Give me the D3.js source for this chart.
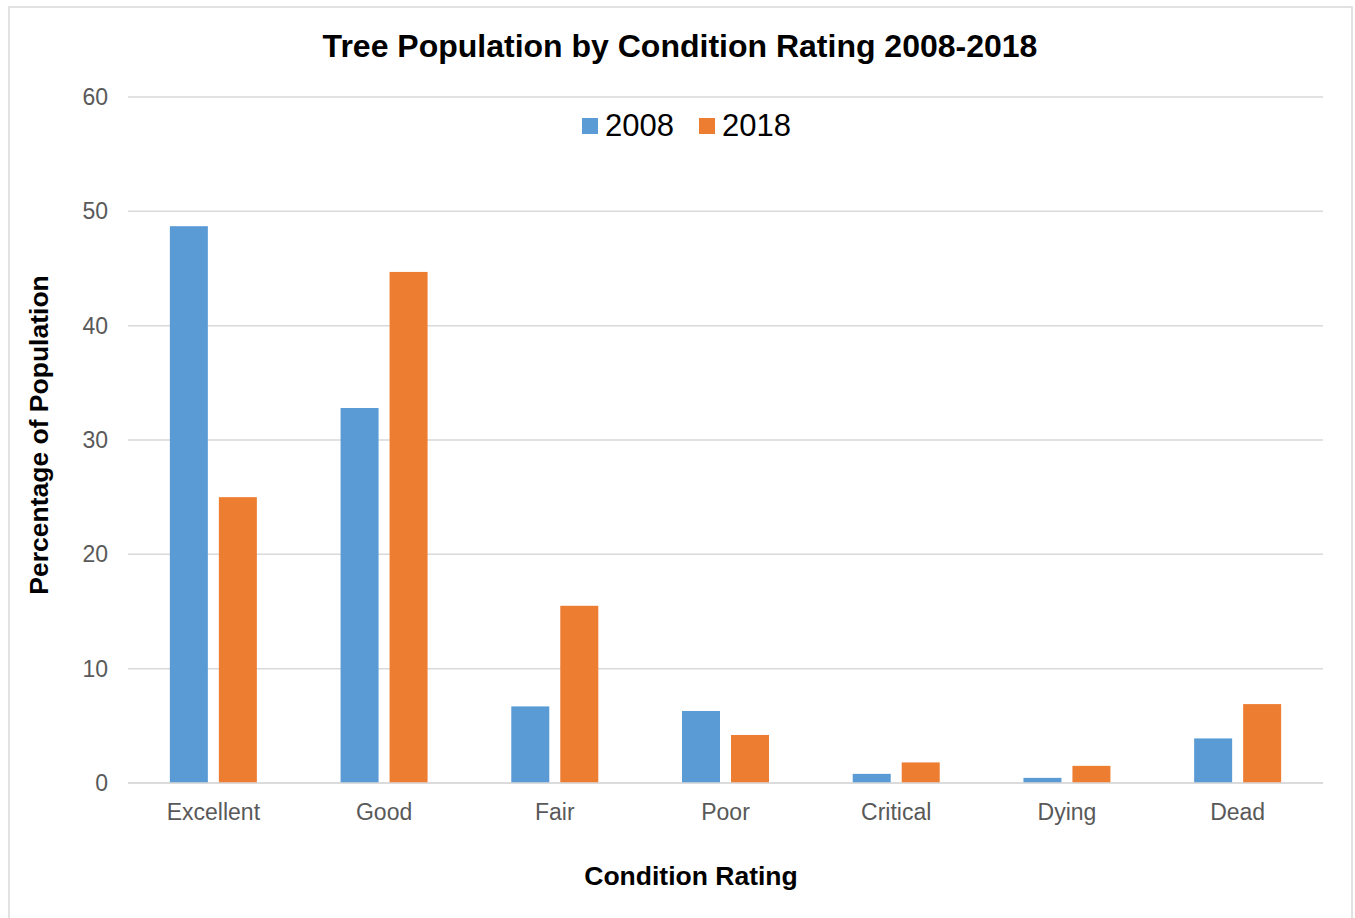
<!DOCTYPE html>
<html>
<head>
<meta charset="utf-8">
<script src="https://cdn.jsdelivr.net/npm/d3@7"></script>
<style>
  html, body { margin: 0; padding: 0; background: #fff; }
  svg { display: block; font-family: "Liberation Sans", Arial, sans-serif; }
</style>
</head>
<body>
<svg id="chart" width="1355" height="918"></svg>
<script>
const categories = ["Excellent", "Good", "Fair", "Poor", "Critical", "Dying", "Dead"];
const seriesNames = ["2008", "2018"];
const values2008 = [48.7, 32.8, 6.7, 6.3, 0.8, 0.45, 3.9];
const values2018 = [25.0, 44.7, 15.5, 4.2, 1.8, 1.5, 6.9];
const yTicks = [0, 10, 20, 30, 40, 50, 60];
const colors = ["#5B9BD5", "#ED7D31"];

const svg = d3.select("#chart");
const plot = { left: 128, right: 1323, top: 97, bottom: 783 };

// frame
svg.append("rect")
  .attr("x", 9).attr("y", 7)
  .attr("width", 1343).attr("height", 925)
  .attr("fill", "#fff").attr("stroke", "#D9D9D9").attr("stroke-width", 1.5);

const x0 = d3.scaleBand().domain(categories).range([plot.left, plot.right]).padding(0);
const groupW = 87;
const x1 = d3.scaleBand().domain(seriesNames).range([0, groupW]).paddingInner(11 / 49).paddingOuter(0);
const y = d3.scaleLinear().domain([0, 60]).range([plot.bottom, plot.top]);

// gridlines
svg.append("g").selectAll("line").data(yTicks).join("line")
  .attr("x1", plot.left).attr("x2", plot.right)
  .attr("y1", d => y(d)).attr("y2", d => y(d))
  .attr("stroke", "#D9D9D9").attr("stroke-width", 1.5);

// y axis labels
const yAxis = d3.axisLeft(y).tickValues(yTicks).tickSize(0).tickPadding(20).tickFormat(d3.format("d"));
const gy = svg.append("g").attr("transform", `translate(${plot.left},0)`).call(yAxis);
gy.select(".domain").remove();
gy.selectAll("text").attr("fill", "#595959").style("font-size", "23px").attr("font-family", "Liberation Sans, Arial, sans-serif");

// bars
const data = categories.map((c, i) => ({ cat: c, vals: [values2008[i], values2018[i]] }));
const groups = svg.append("g").selectAll("g").data(data).join("g")
  .attr("transform", d => `translate(${x0(d.cat) + x0.bandwidth() / 2 - groupW / 2},0)`);
groups.selectAll("rect").data(d => d.vals.map((v, j) => ({ s: seriesNames[j], v, j }))).join("rect")
  .attr("x", d => x1(d.s))
  .attr("width", x1.bandwidth())
  .attr("y", d => y(d.v))
  .attr("height", d => y(0) - y(d.v))
  .attr("fill", d => colors[d.j]);

// baseline
svg.append("line").attr("x1", plot.left).attr("x2", plot.right)
  .attr("y1", y(0)).attr("y2", y(0)).attr("stroke", "#D9D9D9").attr("stroke-width", 1.5);

// x axis labels
const xAxis = d3.axisBottom(x0).tickSize(0).tickPadding(0);
const gx = svg.append("g").attr("transform", `translate(0,${plot.bottom})`).call(xAxis);
gx.select(".domain").remove();
gx.selectAll("text").attr("fill", "#595959").style("font-size", "23px")
  .attr("font-family", "Liberation Sans, Arial, sans-serif")
  .attr("dy", null).attr("y", 37);

// title
svg.append("text").attr("x", 680).attr("y", 57).attr("text-anchor", "middle")
  .attr("font-size", 32).attr("font-weight", "bold").attr("fill", "#000")
  .text("Tree Population by Condition Rating 2008-2018");

// axis titles
svg.append("text").attr("x", 691).attr("y", 885).attr("text-anchor", "middle")
  .attr("font-size", 26.5).attr("font-weight", "bold").attr("fill", "#000")
  .text("Condition Rating");
svg.append("text").attr("transform", "translate(48,435) rotate(-90)").attr("text-anchor", "middle")
  .attr("font-size", 26.5).attr("font-weight", "bold").attr("fill", "#000")
  .text("Percentage of Population");

// legend
const legendX = [582, 699];
const lg = svg.append("g").selectAll("g").data(seriesNames).join("g")
  .attr("transform", (d, i) => `translate(${legendX[i]},0)`);
lg.append("rect").attr("x", 0).attr("y", 118).attr("width", 16).attr("height", 16)
  .attr("fill", (d, i) => colors[i]);
lg.append("text").attr("x", 23).attr("y", 136).attr("font-size", 31).attr("fill", "#000")
  .text(d => d);
</script>
</body>
</html>
